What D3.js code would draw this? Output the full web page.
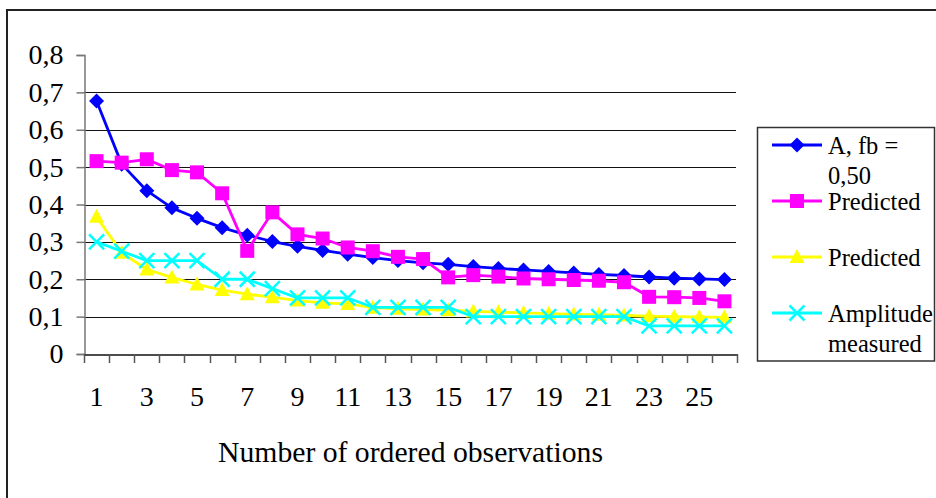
<!DOCTYPE html>
<html>
<head>
<meta charset="utf-8">
<script src="https://cdn.jsdelivr.net/npm/d3@7"></script>
<style>
  html, body { margin: 0; padding: 0; background: #fff; }
  svg { display: block; }
  text { font-family: "Liberation Serif", "Times New Roman", serif; fill: #000; }
</style>
</head>
<body>
<svg id="chart" width="936" height="498"></svg>
<script>
// ---- data ----
const categories = d3.range(1, 27);
const seriesNames = ["A, fb = 0,50", "Predicted", "Predicted", "Amplitude measured"];
const blueValues = [0.677, 0.508, 0.437, 0.391, 0.363, 0.338, 0.318, 0.301, 0.288, 0.277, 0.267, 0.258, 0.250, 0.244, 0.240, 0.234, 0.229, 0.225, 0.221, 0.217, 0.213, 0.210, 0.206, 0.203, 0.201, 0.199];
const magentaValues = [0.516, 0.512, 0.521, 0.492, 0.486, 0.430, 0.276, 0.379, 0.320, 0.309, 0.285, 0.275, 0.260, 0.254, 0.205, 0.211, 0.207, 0.202, 0.200, 0.198, 0.196, 0.192, 0.153, 0.152, 0.150, 0.141];
const yellowValues = [0.367, 0.271, 0.226, 0.205, 0.186, 0.171, 0.160, 0.152, 0.143, 0.137, 0.134, 0.124, 0.121, 0.119, 0.117, 0.114, 0.112, 0.110, 0.108, 0.106, 0.105, 0.103, 0.101, 0.100, 0.099, 0.098];
const cyanValues = [0.300, 0.275, 0.250, 0.250, 0.250, 0.200, 0.200, 0.175, 0.150, 0.150, 0.150, 0.125, 0.125, 0.125, 0.125, 0.100, 0.100, 0.100, 0.100, 0.100, 0.100, 0.100, 0.075, 0.075, 0.075, 0.075];
const yTicks = [0, 0.1, 0.2, 0.3, 0.4, 0.5, 0.6, 0.7, 0.8];
const xTickLabels = [1, 3, 5, 7, 9, 11, 13, 15, 17, 19, 21, 23, 25];
const xTitle = "Number of ordered observations";

(function () {
const FONT = "'Liberation Serif', 'Times New Roman', serif";
const series = [
  { values: blueValues, color: "#0000ff", marker: "diamond", legend: ["A, fb =", "0,50"] },
  { values: magentaValues, color: "#ff00ff", marker: "square", legend: ["Predicted"] },
  { values: yellowValues, color: "#ffff00", marker: "triangle", legend: ["Predicted"] },
  { values: cyanValues, color: "#00ffff", marker: "x", legend: ["Amplitude", "measured"] }
];

const svg = d3.select("#chart");
const pLeft = 84, pRight = 737, pTop = 55, pBottom = 354;

// outer border
svg.append("rect").attr("x", 7).attr("y", 10).attr("width", 1000).attr("height", 1000)
  .attr("fill", "none").attr("stroke", "#222").attr("stroke-width", 2);

const x = d3.scaleBand().domain(categories).range([pLeft, pRight]).padding(0);
const y = d3.scaleLinear().domain([0, 0.8]).range([pBottom, pTop]);

// gridlines
svg.append("g").selectAll("line").data(yTicks.filter(t => t > 0 && t < 0.8)).join("line")
  .attr("x1", pLeft).attr("x2", pRight - 1)
  .attr("y1", d => Math.round(y(d)) + 0.5).attr("y2", d => Math.round(y(d)) + 0.5)
  .attr("stroke", "#111").attr("stroke-width", 1.2);

// y axis
const yAxis = d3.axisLeft(y).tickValues(yTicks).tickSize(8).tickPadding(13)
  .tickFormat(d => d3.format(".1~f")(d).replace(".", ","));
const gy = svg.append("g").attr("transform", `translate(${pLeft + 0.5},0)`).call(yAxis);
gy.attr("font-family", null);
gy.select(".domain").attr("stroke", "#777").attr("stroke-width", 1.5);
gy.selectAll(".tick line").attr("stroke", "#777").attr("stroke-width", 1.5);
gy.selectAll(".tick text").attr("font-size", 28).style("font-family", FONT).attr("fill", "#000");

// x axis
const xAxis = d3.axisBottom(x).tickValues(xTickLabels).tickSize(0).tickPadding(32);
const gx = svg.append("g").attr("transform", `translate(0,${pBottom + 0.5})`).call(xAxis);
gx.attr("font-family", null);
gx.select(".domain").attr("stroke", "#111").attr("stroke-width", 1.5);
gx.selectAll(".tick text").attr("font-size", 28).style("font-family", FONT).attr("fill", "#000");
// x tick marks at category boundaries
const boundaries = categories.map(c => x(c)).concat([x(categories[categories.length - 1]) + x.bandwidth()]);
svg.append("g").selectAll("line").data(boundaries).join("line")
  .attr("x1", d => Math.round(d) + 0.5).attr("x2", d => Math.round(d) + 0.5)
  .attr("y1", pBottom).attr("y2", pBottom + 9)
  .attr("stroke", "#555").attr("stroke-width", 1.5);

// x title
svg.append("text").attr("x", (pLeft + pRight) / 2).attr("y", 462)
  .attr("text-anchor", "middle").attr("font-size", 29.7).style("font-family", FONT).text(xTitle);

// marker drawing
function drawMarker(g, type, cx, cy, color) {
  if (type === "diamond") {
    const r = 7.5;
    g.append("path").attr("d", `M${cx},${cy - r}L${cx + r},${cy}L${cx},${cy + r}L${cx - r},${cy}Z`).attr("fill", color);
  } else if (type === "square") {
    g.append("rect").attr("x", cx - 7).attr("y", cy - 7).attr("width", 14).attr("height", 14).attr("fill", color);
  } else if (type === "triangle") {
    g.append("path").attr("d", `M${cx},${cy - 8}L${cx + 7.5},${cy + 6}L${cx - 7.5},${cy + 6}Z`).attr("fill", color);
  } else if (type === "x") {
    const r = 7.5;
    g.append("path").attr("d", `M${cx - r},${cy - r}L${cx + r},${cy + r}M${cx - r},${cy + r}L${cx + r},${cy - r}`)
      .attr("stroke", color).attr("stroke-width", 2.5).attr("fill", "none");
  }
}

const cxOf = c => x(c) + x.bandwidth() / 2;
const line = d3.line().x((d, i) => cxOf(categories[i])).y(d => y(d));

series.forEach(s => {
  const g = svg.append("g");
  g.append("path").datum(s.values).attr("d", line).attr("fill", "none")
    .attr("stroke", s.color).attr("stroke-width", 2.8).attr("stroke-linejoin", "round");
  s.values.forEach((v, i) => drawMarker(g, s.marker, cxOf(categories[i]), y(v), s.color));
});

// legend
const lg = svg.append("g");
lg.append("rect").attr("x", 757.5).attr("y", 127.5).attr("width", 177).attr("height", 233.5)
  .attr("fill", "#fff").attr("stroke", "#333").attr("stroke-width", 1.5);
series.forEach((s, i) => {
  const ly = 145 + i * 56;
  lg.append("line").attr("x1", 772).attr("x2", 822).attr("y1", ly).attr("y2", ly)
    .attr("stroke", s.color).attr("stroke-width", 2.8);
  drawMarker(lg, s.marker, 797, ly, s.color);
  s.legend.forEach((t, j) => {
    lg.append("text").attr("x", 828).attr("y", ly + 8.5 + j * 30).attr("font-size", 24.5)
      .style("font-family", FONT).text(t);
  });
});
})();
</script>
</body>
</html>
